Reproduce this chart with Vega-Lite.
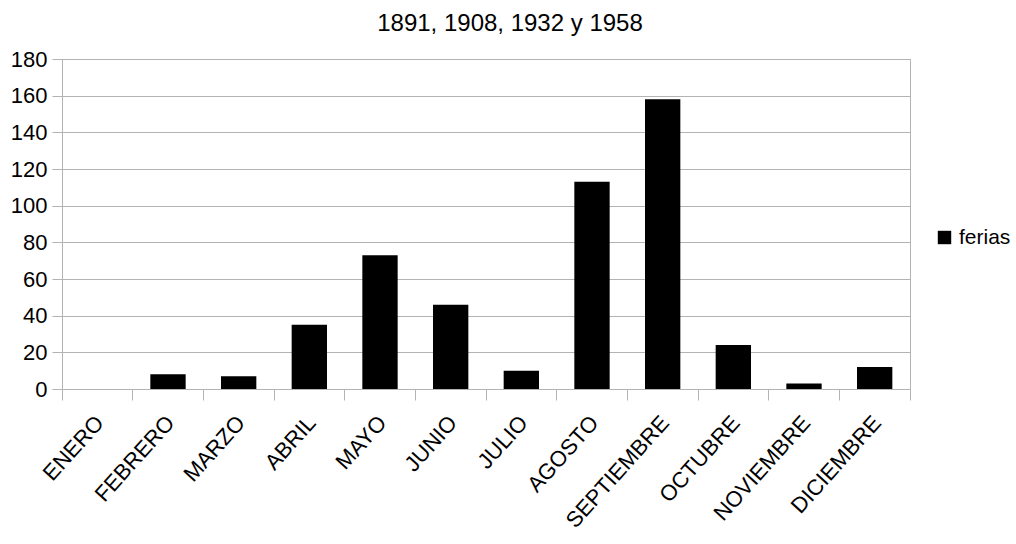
{
  "$schema": "https://vega.github.io/schema/vega-lite/v6.json",
  "autosize": "none",
  "padding": {"left": 62, "top": 59, "right": 106, "bottom": 155},
  "width": 848,
  "height": 330,
  "background": "white",
  "title": {
    "text": "1891, 1908, 1932 y 1958",
    "font": "Liberation Sans",
    "fontSize": 24,
    "fontWeight": "normal",
    "color": "black",
    "anchor": "middle",
    "dx": 24,
    "offset": 12
  },
  "data": {
    "values": [
      {"mes": "ENERO", "ferias": 0, "serie": "ferias"},
      {"mes": "FEBRERO", "ferias": 8, "serie": "ferias"},
      {"mes": "MARZO", "ferias": 7, "serie": "ferias"},
      {"mes": "ABRIL", "ferias": 35, "serie": "ferias"},
      {"mes": "MAYO", "ferias": 73, "serie": "ferias"},
      {"mes": "JUNIO", "ferias": 46, "serie": "ferias"},
      {"mes": "JULIO", "ferias": 10, "serie": "ferias"},
      {"mes": "AGOSTO", "ferias": 113, "serie": "ferias"},
      {"mes": "SEPTIEMBRE", "ferias": 158, "serie": "ferias"},
      {"mes": "OCTUBRE", "ferias": 24, "serie": "ferias"},
      {"mes": "NOVIEMBRE", "ferias": 3, "serie": "ferias"},
      {"mes": "DICIEMBRE", "ferias": 12, "serie": "ferias"}
    ]
  },
  "mark": {"type": "bar", "width": {"band": 0.5}},
  "encoding": {
    "x": {
      "field": "mes",
      "type": "nominal",
      "sort": null,
      "title": null,
      "scale": {"paddingInner": 0, "paddingOuter": 0},
      "axis": {
        "labelAngle": -48,
        "labelAlign": "right",
        "labelBaseline": "top",
        "labelFont": "Liberation Sans",
        "labelFontSize": 22,
        "labelColor": "black",
        "labelPadding": 12,
        "labelOffset": -5,
        "bandPosition": 1,
        "tickExtra": true,
        "tickSize": 11,
        "tickColor": "#b3b3b3",
        "domainColor": "#b3b3b3",
        "grid": false
      }
    },
    "y": {
      "field": "ferias",
      "type": "quantitative",
      "title": null,
      "scale": {"domain": [0, 180], "nice": false},
      "axis": {
        "values": [0, 20, 40, 60, 80, 100, 120, 140, 160, 180],
        "labelFont": "Liberation Sans",
        "labelFontSize": 22,
        "labelColor": "black",
        "labelPadding": 5,
        "tickSize": 10,
        "tickColor": "#b3b3b3",
        "domainColor": "#b3b3b3",
        "gridColor": "#b3b3b3",
        "grid": true
      }
    },
    "color": {
      "field": "serie",
      "type": "nominal",
      "scale": {"range": ["black"]},
      "legend": {
        "title": null,
        "orient": "none",
        "legendX": 872,
        "legendY": 168,
        "symbolType": "square",
        "symbolSize": 180,
        "symbolStrokeWidth": 0,
        "labelFont": "Liberation Sans",
        "labelFontSize": 21,
        "labelColor": "black",
        "labelOffset": 4
      }
    }
  },
  "config": {
    "view": {"stroke": "#b3b3b3"},
    "axis": {"labelFlush": false, "labelOverlap": false}
  }
}
